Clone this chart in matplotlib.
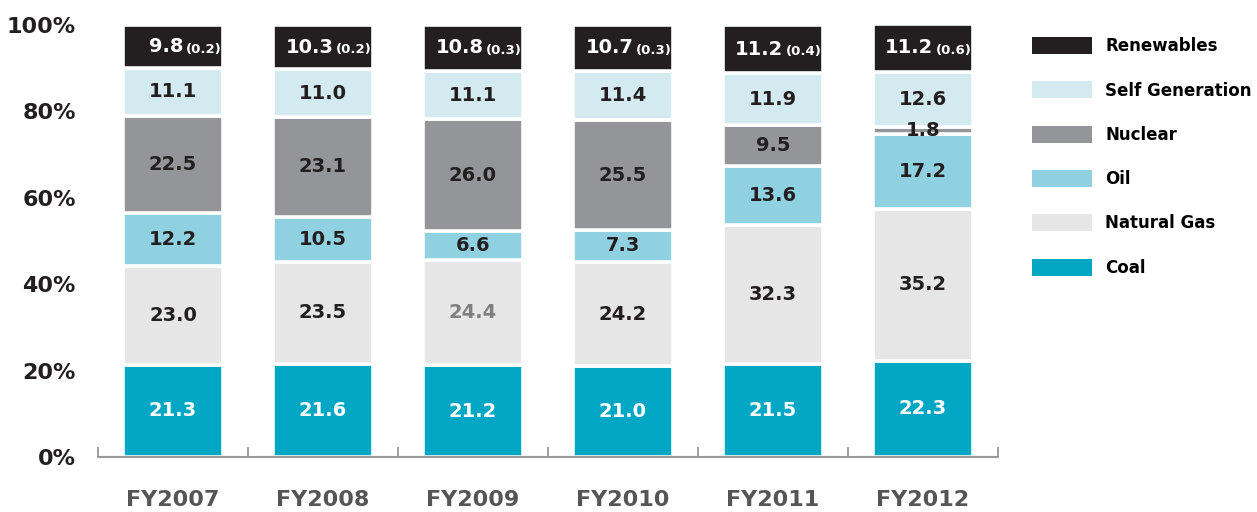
import matplotlib
matplotlib.use("Agg")
import matplotlib.pyplot as plt
from matplotlib.patches import Patch
import numpy as np

years = ["FY2007", "FY2008", "FY2009", "FY2010", "FY2011", "FY2012"]
coal = [21.3, 21.6, 21.2, 21.0, 21.5, 22.3]
natural_gas = [23.0, 23.5, 24.4, 24.2, 32.3, 35.2]
oil = [12.2, 10.5, 6.6, 7.3, 13.6, 17.2]
nuclear = [22.5, 23.1, 26.0, 25.5, 9.5, 1.8]
self_gen = [11.1, 11.0, 11.1, 11.4, 11.9, 12.6]
renewables = [9.8, 10.3, 10.8, 10.7, 11.2, 11.2]
new_energy = [0.2, 0.2, 0.3, 0.3, 0.4, 0.6]

series_names = ["Coal", "Natural Gas", "Oil", "Nuclear", "Self Generation", "Renewables"]
series_vals = [coal, natural_gas, oil, nuclear, self_gen, renewables]
colors = ["#00a7c4", "#e6e6e6", "#8fd1e1", "#939598", "#d2eaf0", "#231f20"]

plt.rcParams['font.family'] = ['DejaVu Sans']

fig = plt.figure(figsize=(12.57, 5.12), dpi=100)
ax = fig.add_axes([98/1257, (512-457)/512, 900/1257, (457-25)/512])

x = np.arange(len(years))
bottom = np.zeros(len(years))
for name, vals, col in zip(series_names, series_vals, colors):
    vals = np.array(vals)
    ax.bar(x, vals, width=0.667, bottom=bottom, color=col,
           edgecolor="white", linewidth=2.6, label=name, zorder=2)
    for i, v in enumerate(vals):
        yc = bottom[i] + v / 2
        if name == "Renewables":
            ax.text(x[i] + 0.07, yc, f"{v:.1f}", ha="right", va="center",
                    color="white", fontsize=14, fontweight="bold", zorder=3)
            ax.text(x[i] + 0.085, yc - 0.6, f"({new_energy[i]:.1f})", ha="left",
                    va="center", color="white", fontsize=9.5, fontweight="bold", zorder=3)
            continue
        if name == "Coal":
            c = "white"
        elif name == "Natural Gas" and years[i] == "FY2009":
            c = "#808080"
        else:
            c = "#231f20"
        ax.text(x[i], yc, f"{v:.1f}", ha="center", va="center", color=c,
                fontsize=14, fontweight="bold", zorder=3)
    bottom = bottom + vals

ax.set_xlim(-0.5, len(years) - 0.5)
ax.set_ylim(0, 100)
ax.set_yticks([0, 20, 40, 60, 80, 100])
ax.set_yticklabels(["0%", "20%", "40%", "60%", "80%", "100%"])
ax.tick_params(axis="y", length=0, pad=16, labelsize=16, labelcolor="#231f20")
for lab in ax.get_yticklabels():
    lab.set_fontweight("bold")

ax.set_xticks(x)
ax.set_xticklabels(years)
ax.tick_params(axis="x", length=0, pad=24, labelsize=16, labelcolor="#555555")
for lab in ax.get_xticklabels():
    lab.set_fontweight("bold")
ax.set_xticks(np.arange(-0.5, len(years)), minor=True)
ax.tick_params(axis="x", which="minor", direction="in", length=7, width=1.3, color="#999999")

for s in ["top", "right", "left"]:
    ax.spines[s].set_visible(False)
ax.spines["bottom"].set_color("#999999")
ax.spines["bottom"].set_linewidth(1.5)

labels = series_names[::-1]
handles = [Patch(facecolor=c, edgecolor="none") for c in colors][::-1]
fig.legend(handles, labels, loc="upper left",
           bbox_to_anchor=(1032/1257, 1 - 37/512), frameon=False,
           borderpad=0, borderaxespad=0, handlelength=3.6, handleheight=1.2,
           handletextpad=0.8, labelspacing=1.57, prop={"size": 12, "weight": "bold"})

fig.savefig("out.png", dpi=100)
